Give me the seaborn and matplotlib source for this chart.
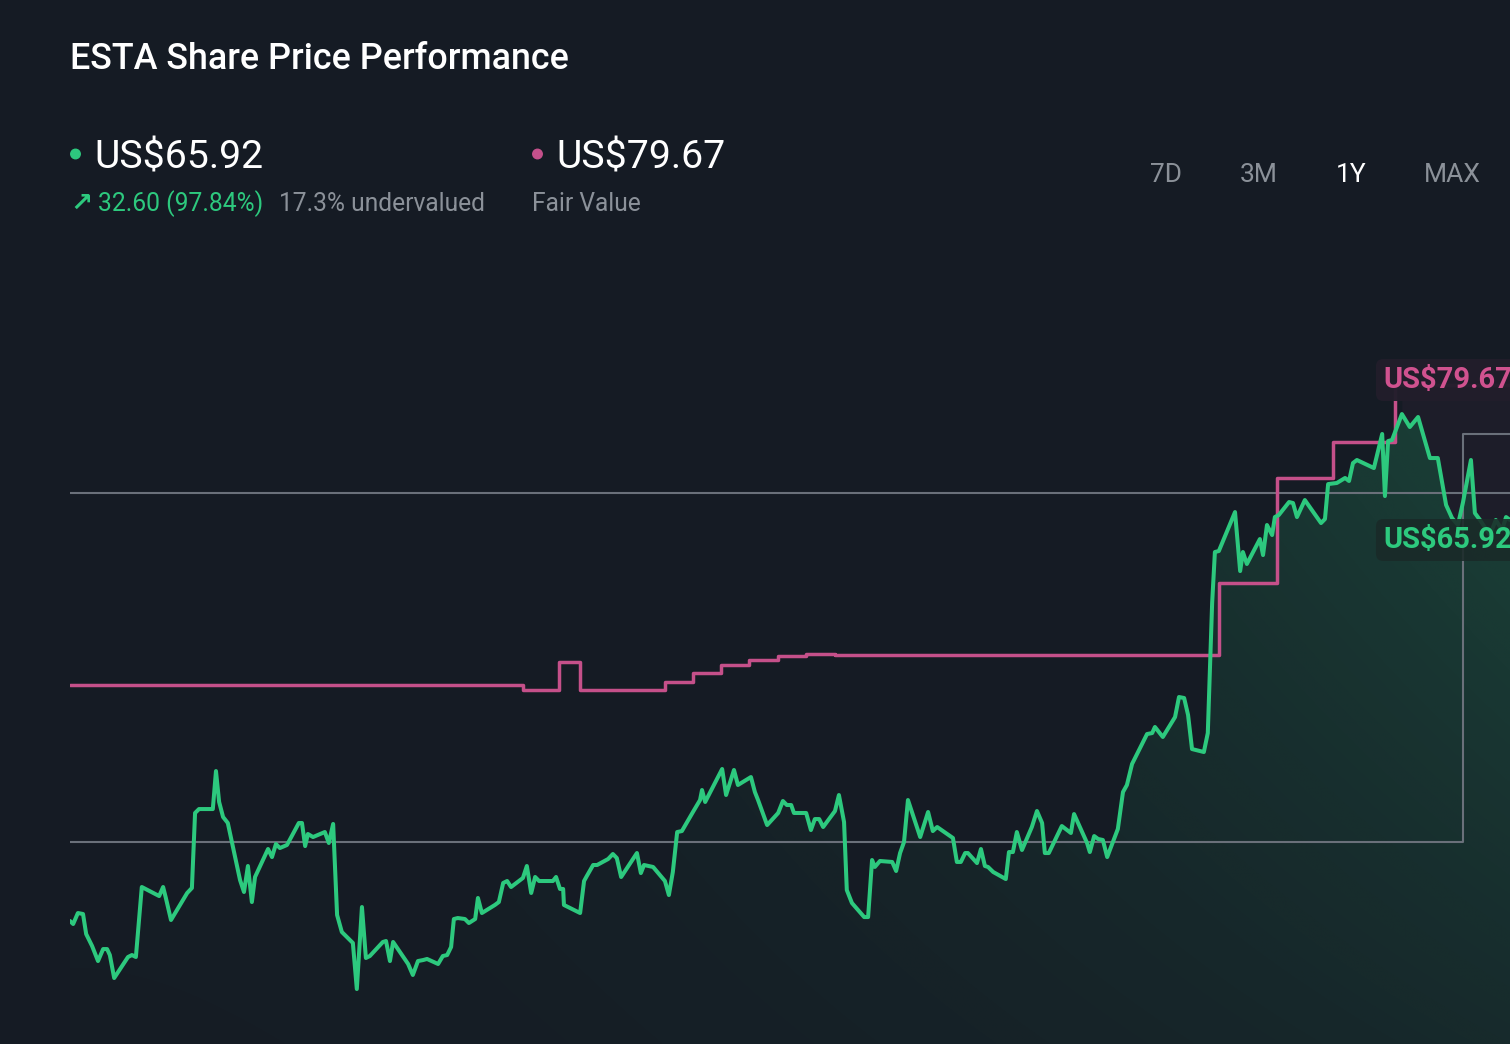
import numpy as np
import matplotlib
matplotlib.use("Agg")
import matplotlib.pyplot as plt
import matplotlib.transforms as mtransforms
from matplotlib.patches import Ellipse
import seaborn as sns

# ---------------- data ----------------
days = [0.0, 0.8, 2.0, 3.3, 4.1, 5.6, 7.1, 8.4, 9.4, 10.1, 11.2, 14.7, 15.7, 16.7, 18.2, 22.6, 23.6, 24.3, 25.6, 29.7,
        30.9, 31.7, 32.7, 36.2, 37.0, 37.8, 38.8, 40.0, 41.3, 43.1, 44.1, 45.1, 46.1, 46.9, 48.2, 50.2, 51.2, 52.2, 53.2, 55.0,
        58.0, 58.8, 59.6, 60.3, 61.6, 64.6, 65.6, 66.7, 67.7, 68.9, 71.7, 72.7, 74.0, 75.0, 76.0, 79.3, 80.1, 81.1, 81.9, 85.7,
        86.9, 88.2, 89.5, 90.5, 93.3, 94.5, 95.6, 96.6, 97.3, 98.3, 100.1, 101.1, 102.7, 103.4, 104.4, 107.7, 108.7, 109.8, 110.8, 111.8,
        114.8, 115.8, 116.9, 117.9, 118.9, 122.4, 123.2, 124.2, 125.0, 125.2, 129.3, 130.3, 131.0, 132.6, 133.6, 136.4, 137.6, 138.6, 139.7, 143.7,
        144.7, 145.5, 147.8, 150.8, 151.8, 152.8, 153.9, 155.1, 157.9, 159.7, 160.2, 161.0, 165.3, 166.3, 168.3, 169.3, 172.6, 173.6, 174.4, 176.7,
        179.5, 180.7, 181.7, 182.8, 183.5, 186.6, 187.8, 188.8, 189.9, 190.9, 193.9, 194.9, 196.2, 196.9, 198.2, 201.3, 202.3, 203.3, 204.0, 205.3,
        208.4, 209.4, 210.4, 211.4, 212.4, 215.5, 217.5, 218.7, 219.8, 223.8, 224.8, 225.8, 226.9, 227.6, 229.9, 230.9, 231.9, 232.7, 234.0, 237.2,
        238.0, 239.0, 240.0, 241.3, 243.8, 245.1, 246.4, 247.1, 248.1, 251.4, 253.7, 254.5, 257.8, 258.5, 259.6, 260.6, 261.8, 262.9, 265.6, 266.9,
        267.9, 269.2, 273.0, 274.3, 275.0, 277.0, 280.1, 281.1, 282.4, 283.4, 284.4, 287.4, 288.4, 289.5, 290.2, 291.2, 295.3, 296.6, 297.3, 298.3,
        301.6, 302.4, 303.4, 304.7, 305.4, 306.4, 309.0, 310.0, 311.0, 313.0, 317.1, 318.1, 318.9, 321.1, 323.2, 324.2, 325.2, 326.2, 330.5, 332.6,
        333.3, 334.1, 335.1, 337.6, 339.6, 341.7, 344.7, 346.7, 348.8, 350.3, 351.8, 353.1, 355.1, 356.1, 357.4, 359.9, 361.4, 363.0, 364.0, 365.0]

price = [25.08, 24.77, 25.89, 25.79, 23.75, 22.53, 21.00, 22.22, 22.22, 21.61, 19.27, 21.41, 21.61, 21.41, 28.54, 27.62, 28.54, 27.42, 25.18, 27.93,
         28.44, 36.08, 36.48, 36.48, 40.35, 37.20, 35.67, 35.06, 32.61, 29.25, 28.03, 30.68, 27.01, 29.56, 30.68, 32.41, 31.59, 32.92, 32.51, 32.82,
         35.06, 35.06, 32.71, 33.94, 33.63, 34.14, 33.02, 34.96, 25.69, 23.96, 22.84, 18.15, 26.50, 21.31, 21.51, 22.94, 23.04, 21.00, 22.94, 20.70,
         19.58, 21.00, 21.10, 21.21, 20.70, 21.51, 21.61, 22.43, 25.28, 25.38, 25.28, 24.87, 25.28, 27.42, 25.89, 26.71, 27.01, 28.95, 29.15, 28.54,
         29.46, 30.68, 27.93, 29.56, 29.15, 29.15, 29.56, 28.34, 28.34, 26.71, 25.89, 29.15, 29.66, 30.78, 30.78, 31.39, 31.90, 31.49, 29.56, 32.00,
         29.96, 30.78, 30.58, 29.15, 27.72, 30.07, 34.14, 34.24, 36.18, 37.40, 38.42, 37.20, 40.56, 37.91, 40.46, 38.93, 39.74, 38.21, 37.40, 34.85,
         36.08, 37.30, 36.89, 36.89, 36.08, 36.08, 34.34, 35.46, 35.46, 34.65, 36.28, 37.91, 35.16, 28.23, 26.91, 25.48, 25.48, 31.29, 30.58, 31.19,
         31.09, 30.17, 32.00, 33.12, 37.40, 33.63, 36.18, 34.24, 34.65, 33.53, 31.09, 31.09, 32.00, 32.00, 30.98, 32.41, 30.68, 30.58, 30.07, 29.35,
         32.10, 32.10, 34.14, 32.31, 34.65, 36.28, 35.06, 32.00, 32.00, 34.75, 34.04, 35.97, 33.02, 32.10, 33.73, 33.43, 33.33, 31.59, 34.45, 38.21,
         38.93, 41.07, 44.12, 44.22, 44.84, 43.82, 45.85, 47.89, 47.79, 46.06, 42.59, 42.29, 44.22, 57.46, 62.66, 62.76, 66.73, 60.72, 62.66, 61.44,
         63.98, 62.35, 65.41, 64.39, 66.22, 66.43, 67.75, 67.65, 66.22, 67.95, 65.61, 66.02, 69.58, 69.69, 70.20, 69.89, 71.72, 72.03, 71.21, 74.68,
         68.36, 73.96, 74.07, 76.71, 75.39, 76.41, 72.23, 72.23, 67.45, 66.12, 65.41, 67.75, 72.03, 66.63, 65.92, 64.39, 65.92, 64.90, 66.22, 65.92]

fv_days = [0.0, 114.8, 123.9, 129.3, 150.8, 157.9, 165.0, 172.1, 179.5, 186.6, 193.9, 291.2, 305.9, 320.1, 335.8, 365.0]
fair_value = [49.11, 48.60, 51.45, 48.60, 49.42, 50.33, 51.15, 51.66, 52.07, 52.27, 52.17, 59.50, 70.20, 73.86, 79.67, 79.67]

ref_level = 68.66
band_days = [0.0, 353.1, 365.0]
band_values = [33.12, 74.68, 74.68]

current_price = 65.92
fair_price = 79.67
change_abs = 32.60
change_pct = 97.84
undervalued_pct = 17.3
periods = ["7D", "3M", "1Y", "MAX"]
active_period = "1Y"

# ---------------- style ----------------
BG = "#151b24"
GREEN = "#2dc97e"
PINK = "#c5508a"
GREY_TXT = "#8b9199"
GREY_LINE = "#6a707a"

sns.set_theme(style="dark", rc={"axes.facecolor": BG, "figure.facecolor": BG})
plt.rcParams["font.family"] = ["Roboto", "DejaVu Sans"]

W, H = 1510, 1044
fig = plt.figure(figsize=(W / 100, H / 100), dpi=100)
fig.patch.set_facecolor(BG)

YMIN, YMAX = 12.55, 93.42
ax = fig.add_axes([70 / W, 0, 1440 / W, (H - 250) / H])
ax.set_facecolor(BG)

# gradient fill under price line
poly = ax.fill_between(days, price, YMIN, facecolor="none", edgecolor="none")
gh, gw = 400, 600
yv = np.linspace(YMIN, YMAX, gh)
v = np.clip((yv - YMIN) / (78.0 - YMIN), 0, 1)
xf = np.linspace(0, 1, gw)
alpha = (0.025 + 0.20 * xf ** 2.0)[None, :] * (0.4 + 0.6 * v)[:, None]
rgba = np.zeros((gh, gw, 4))
rgba[..., :3] = matplotlib.colors.to_rgb(GREEN)
rgba[..., 3] = alpha
im = ax.imshow(rgba, extent=[0, 365, YMIN, YMAX], origin="lower", aspect="auto", zorder=1, interpolation="bilinear")
im.set_clip_path(poly.get_paths()[0], transform=ax.transData)

# light pink shading for the latest fair value period
d_arr = np.array(days)
ax.fill_between(days, price, fair_price, where=d_arr >= fv_days[-2], interpolate=True,
                color=PINK, alpha=0.05, linewidth=0, zorder=1)

# grey reference lines
ax.axhline(ref_level, color=GREY_LINE, lw=1.5, zorder=2)
ax.step(band_days, band_values, where="post", color=GREY_LINE, lw=1.5, zorder=2)

# fair value step line
sns.lineplot(x=fv_days, y=fair_value, drawstyle="steps-post", color=PINK, lw=2.5,
             estimator=None, ax=ax, zorder=3)
# price line
sns.lineplot(x=days, y=price, color=GREEN, lw=2.9, estimator=None, sort=False, ax=ax, zorder=4)

ax.set_xlim(0, 365)
ax.set_ylim(YMIN, YMAX)
ax.set_axis_off()

# value labels on right
lab_tr = mtransforms.blended_transform_factory(ax.transAxes, ax.transData)
ax.annotate(f"US${fair_price:.2f}", xy=(0.9118, fair_price), xycoords=lab_tr,
            xytext=(0, 3.6), textcoords="offset points", ha="left", va="center",
            fontsize=21, fontweight="bold", color="#d0528f", zorder=6, annotation_clip=False,
            bbox=dict(boxstyle="round,pad=0.24,rounding_size=0.25", fc="#221e2b", ec="none", alpha=0.97))
ax.annotate(f"US${current_price:.2f}", xy=(0.9118, current_price), xycoords=lab_tr,
            xytext=(0, -14.4), textcoords="offset points", ha="left", va="center",
            fontsize=21, fontweight="bold", color=GREEN, zorder=6, annotation_clip=False,
            bbox=dict(boxstyle="round,pad=0.24,rounding_size=0.25", fc="#1a2a28", ec="none", alpha=0.88))

# ---------------- header ----------------
def fx(x):
    return x / W

def fy(y):
    return 1 - y / H

fig.text(fx(70), fy(69), "ESTA Share Price Performance", color="white", fontsize=25.8,
         fontweight="medium", ha="left", va="baseline")

fig.add_artist(Ellipse((fx(75.5), fy(154)), 9.5 / W, 9.5 / H, transform=fig.transFigure, color=GREEN))
fig.text(fx(94), fy(168), f"US${current_price:.2f}", color="white", fontsize=28.3, ha="left", va="baseline")
fig.add_artist(Ellipse((fx(537.5), fy(154)), 9.5 / W, 9.5 / H, transform=fig.transFigure, color="#c4508b"))
fig.text(fx(556), fy(168), f"US${fair_price:.2f}", color="white", fontsize=28.3, ha="left", va="baseline")

fig.text(fx(70), fy(211), "\u2197", color=GREEN, fontsize=19, fontweight="bold",
         family=["DejaVu Sans"], ha="left", va="baseline")
fig.text(fx(98), fy(211), f"{change_abs:.2f} ({change_pct:.2f}%)", color=GREEN, fontsize=17.7,
         ha="left", va="baseline")
fig.text(fx(279), fy(211), f"{undervalued_pct}% undervalued", color=GREY_TXT, fontsize=17.7,
         ha="left", va="baseline")
fig.text(fx(532), fy(211), "Fair Value", color=GREY_TXT, fontsize=17.7, ha="left", va="baseline")

for lab, cx in zip(periods, [1166, 1259, 1351, 1452]):
    fig.text(fx(cx), fy(182), lab, color="white" if lab == active_period else GREY_TXT,
             fontsize=19, ha="center", va="baseline")

fig.savefig("out.png", dpi=100, facecolor=BG)
